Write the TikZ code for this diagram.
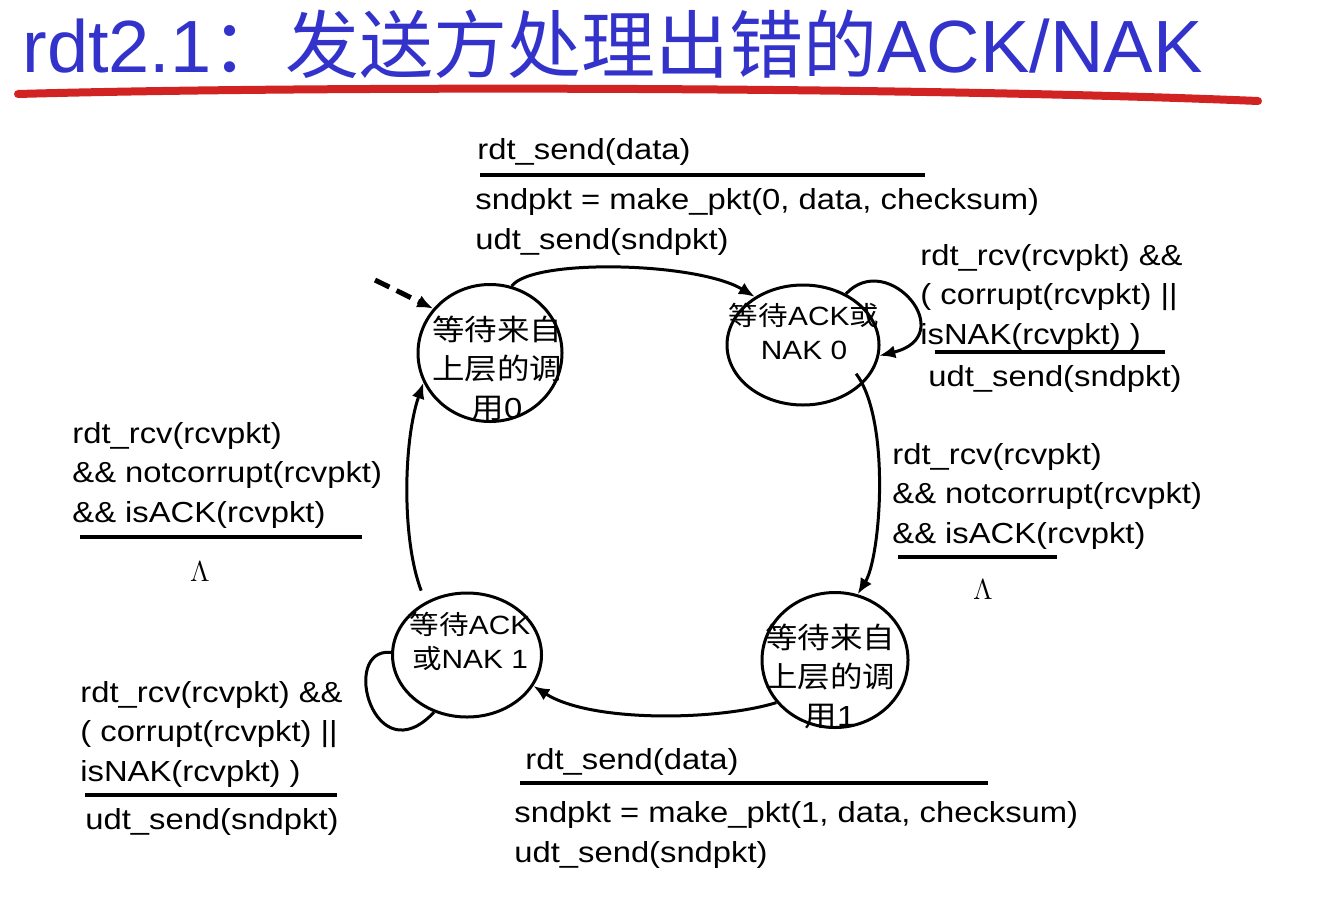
\documentclass[tikz,border=0pt]{standalone}
\usepackage{fontspec}
\setmainfont[FakeStretch=1.13]{Liberation Sans}
\newfontfamily\cjk[FakeStretch=1.12]{Noto Sans CJK SC}
\newfontfamily\ttlcjk{Noto Sans CJK SC}
\newfontfamily\ttllat{Liberation Sans}
\usetikzlibrary{arrows.meta,shapes.geometric}
\definecolor{ttl}{RGB}{51,51,204}
\definecolor{brush}{RGB}{210,35,35}
\tikzset{
  >={Latex[length=8pt,width=6.5pt]},
  state/.style={draw,ellipse,line width=1.5pt,inner sep=0pt,minimum width=74pt,minimum height=65pt},
  stxt/.style={font=\fontsize{14.5}{19.5}\selectfont\cjk,align=center,inner sep=0pt},
  ackstxt/.style={stxt,font=\fontsize{13.2}{17}\selectfont\cjk},
  lab/.style={font=\fontsize{14.5}{19.65}\selectfont,align=left,anchor=base west,inner sep=0pt},
  lam/.style={font=\fontsize{14.5}{17}\selectfont,inner sep=0pt},
  tr/.style={->,line width=1.5pt},
  rule/.style={line width=2pt},
}
\newcommand{\latn}{\rmfamily}

\begin{document}
\begin{tikzpicture}[x=0.5pt,y=-0.5pt]
\useasboundingbox (0,0) rectangle (1342,900);
% title
\node[anchor=base west,inner sep=0pt,text=ttl,font=\fontsize{37}{40}\selectfont] (title) at (22,72)
  {{\ttllat rdt2.1}{\ttlcjk ：发送方处理出错的}{\ttllat ACK/NAK}};
\draw[brush,line width=4pt,line cap=round] (18,94) .. controls (300,86) and (900,86) .. (1258,101);

% states
\node[state,minimum width=72pt,minimum height=68.5pt] (s0) at (490,353) {};
\node[state,minimum width=76pt,minimum height=60pt] (s1) at (803,345) {};
\node[state,minimum width=73pt,minimum height=67.5pt] (s2) at (835,660) {};
\node[state,minimum width=74.5pt,minimum height=62pt] (s3) at (467,655) {};
\node[stxt] (t0) at (497,368) {等待来自\\上层的调\\用{\latn 0}};
\node[ackstxt] (t1) at (804,331) {等待{\latn ACK}或\\{\latn NAK 0}};
\node[stxt] (t2) at (830,676) {等待来自\\上层的调\\用{\latn 1}};
\node[ackstxt] (t3) at (470,641) {等待{\latn ACK}\\或{\latn NAK 1}};

% transitions
\coordinate (init) at (375,280);
\draw[tr,line width=2.5pt,dash pattern=on 8pt off 4pt] (init) -- (s0.142);
\draw[tr] (s0.72) .. controls +(20,-28) and +(-58,-35) .. (s1.135);
\draw[tr] (s1.50) .. controls +(42,-45) and +(82,-20) .. (s1.-8);
\draw[tr] ([shift={(-5,-12)}]s1.-35) .. controls +(35,47) and +(23,-37) .. (s2.71);
\draw[tr] (s2.216) .. controls +(-58,18) and +(58,37) .. (s3.-25);
\draw[line width=1.5pt] (s3.178) .. controls +(-52,-5) and +(-60,64) .. (s3.240);
\draw[tr,shorten <=6pt] (s3.128) .. controls +(-24,-63) and +(-20,58) .. (s0.204);

% labels (multi-line nodes sit on their last baseline)
\node[lab] (ev01) at (477,159) {rdt\_send(data)};
\draw[rule] (480,175) -- (925,175);
\node[lab] (ac01) at (475,249) {sndpkt = make\_pkt(0, data, checksum)\\udt\_send(sndpkt)};

\node[lab] (ev11) at (920,344) {rdt\_rcv(rcvpkt) \&\&\\( corrupt(rcvpkt) ||\\isNAK(rcvpkt) )};
\draw[rule] (935,352) -- (1165,352);
\node[lab] (ac11) at (928,386) {udt\_send(sndpkt)};

\node[lab] (ev12) at (892,543) {rdt\_rcv(rcvpkt)\\\&\& notcorrupt(rcvpkt)\\\&\& isACK(rcvpkt)};
\draw[rule] (898,557) -- (1057,557);
\node[lam] (ac12) at (983,590) {$\Lambda$};

\node[lab] (ev23) at (525,769) {rdt\_send(data)};
\draw[rule] (520,783) -- (988,783);
\node[lab] (ac23) at (514,862) {sndpkt = make\_pkt(1, data, checksum)\\udt\_send(sndpkt)};

\node[lab] (ev33) at (80,781) {rdt\_rcv(rcvpkt) \&\&\\( corrupt(rcvpkt) ||\\isNAK(rcvpkt) )};
\draw[rule] (85,795) -- (337,795);
\node[lab] (ac33) at (85,829) {udt\_send(sndpkt)};

\node[lab] (ev30) at (72,522) {rdt\_rcv(rcvpkt)\\\&\& notcorrupt(rcvpkt)\\\&\& isACK(rcvpkt)};
\draw[rule] (80,537) -- (362,537);
\node[lam] (ac30) at (200,572) {$\Lambda$};
\end{tikzpicture}
\end{document}
